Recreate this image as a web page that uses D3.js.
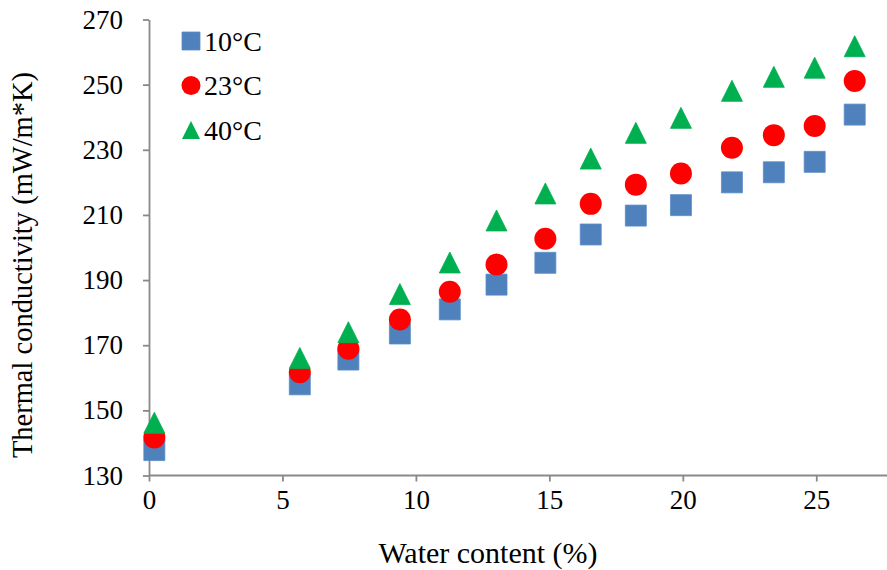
<!DOCTYPE html>
<html>
<head>
<meta charset="utf-8">
<script src="https://cdn.jsdelivr.net/npm/d3@7"></script>
<style>
  html, body { margin: 0; padding: 0; background: #fff; }
  svg { display: block; }
  text { font-family: "Liberation Serif", "Times New Roman", serif; fill: #000; }
</style>
</head>
<body>
<svg id="chart" width="887" height="570"></svg>
<script>
// ---- data ----
const waterContent = [0.2, 5.65, 7.47, 9.4, 11.27, 13.02, 14.85, 16.55, 18.24, 19.93, 21.84, 23.41, 24.94, 26.44];
const k10 = [137.8, 158.0, 165.6, 173.6, 181.0, 188.6, 195.3, 204.0, 209.8, 213.0, 220.0, 223.1, 226.3, 240.8];
const k23 = [141.7, 161.7, 168.9, 177.9, 186.4, 194.8, 202.7, 213.4, 219.3, 222.7, 230.6, 234.5, 237.3, 251.1];
const k40 = [146.2, 166.1, 174.0, 185.7, 195.4, 208.3, 216.6, 227.3, 235.2, 239.8, 248.1, 252.4, 255.2, 261.8];
const seriesNames = ["10°C", "23°C", "40°C"];
const xTicks = [0, 5, 10, 15, 20, 25];
const yTicks = [130, 150, 170, 190, 210, 230, 250, 270];
const xTitle = "Water content (%)";
const yTitle = "Thermal conductivity (mW/m*K)";

const series = [
  { name: seriesNames[0], values: k10, shape: "square", fill: "#4F81BD", stroke: "#5B8BC6" },
  { name: seriesNames[1], values: k23, shape: "circle", fill: "#FF0000", stroke: "#FF0000" },
  { name: seriesNames[2], values: k40, shape: "triangle", fill: "#00B050", stroke: "#00B050" }
];

const svg = d3.select("#chart");
const x = d3.scaleLinear().domain([0, 27.5]).range([149, 883]);
const y = d3.scaleLinear().domain([130, 270]).range([475.5, 19.5]);
const axisColor = "#898989";

// y axis
const yAxis = svg.append("g").attr("transform", `translate(${x(0)},0)`)
  .call(d3.axisLeft(y).tickValues(yTicks).tickSize(6).tickSizeOuter(0).tickPadding(20));
// x axis
const xAxis = svg.append("g").attr("transform", `translate(0,${y(130)})`)
  .call(d3.axisBottom(x).tickValues(xTicks).tickSize(6).tickSizeOuter(0).tickPadding(8));

[xAxis, yAxis].forEach(g => {
  g.select(".domain").attr("stroke", axisColor).attr("stroke-width", 1.8);
  g.selectAll(".tick line").attr("stroke", axisColor).attr("stroke-width", 1.8);
  g.selectAll(".tick text").attr("font-family", "Liberation Serif, Times New Roman, serif")
    .attr("font-size", 27).attr("fill", "#000");
});
xAxis.select(".domain").attr("d", `M${x(0)},0H${887}`);

// markers
const S = 21;
function shapePath(shape, cx, cy) {
  const h = S / 2;
  if (shape === "square") return `M${cx - h},${cy - h}h${S}v${S}h${-S}Z`;
  if (shape === "triangle") return `M${cx},${cy - h}L${cx + h},${cy + h}L${cx - h},${cy + h}Z`;
  return null;
}
function drawMarker(g, s, cx, cy) {
  if (s.shape === "circle") {
    g.append("circle").attr("cx", cx).attr("cy", cy).attr("r", S / 2 + 0.5)
      .attr("fill", s.fill);
  } else {
    g.append("path").attr("d", shapePath(s.shape, cx, cy))
      .attr("fill", s.fill).attr("stroke", s.stroke).attr("stroke-width", 0.8);
  }
}

const plot = svg.append("g");
series.forEach(s => {
  const g = plot.append("g");
  s.values.forEach((v, i) => drawMarker(g, s, x(waterContent[i]), y(v)));
});

// legend
const leg = svg.append("g");
series.forEach((s, i) => {
  const cy = 41 + i * 44.5;
  const g = leg.append("g");
  const ls = 18;
  if (s.shape === "circle") {
    g.append("circle").attr("cx", 191).attr("cy", cy).attr("r", ls / 2 + 0.5).attr("fill", s.fill);
  } else if (s.shape === "square") {
    g.append("path").attr("d", `M${191 - ls / 2},${cy - ls / 2}h${ls}v${ls}h${-ls}Z`)
      .attr("fill", s.fill).attr("stroke", s.stroke).attr("stroke-width", 0.8);
  } else {
    g.append("path").attr("d", `M191,${cy - ls / 2}L${191 + ls / 2},${cy + ls / 2}L${191 - ls / 2},${cy + ls / 2}Z`)
      .attr("fill", s.fill);
  }
  g.append("text").attr("x", 204).attr("y", cy + 9.5).attr("font-size", 28).text(s.name);
});

// axis titles
svg.append("text").attr("x", 488).attr("y", 563).attr("text-anchor", "middle")
  .attr("font-size", 30).text(xTitle);
svg.append("text").attr("transform", `translate(22,265) rotate(-90)`)
  .attr("text-anchor", "middle").attr("dy", "0.35em").attr("font-size", 28.5).text(yTitle);
</script>
</body>
</html>
